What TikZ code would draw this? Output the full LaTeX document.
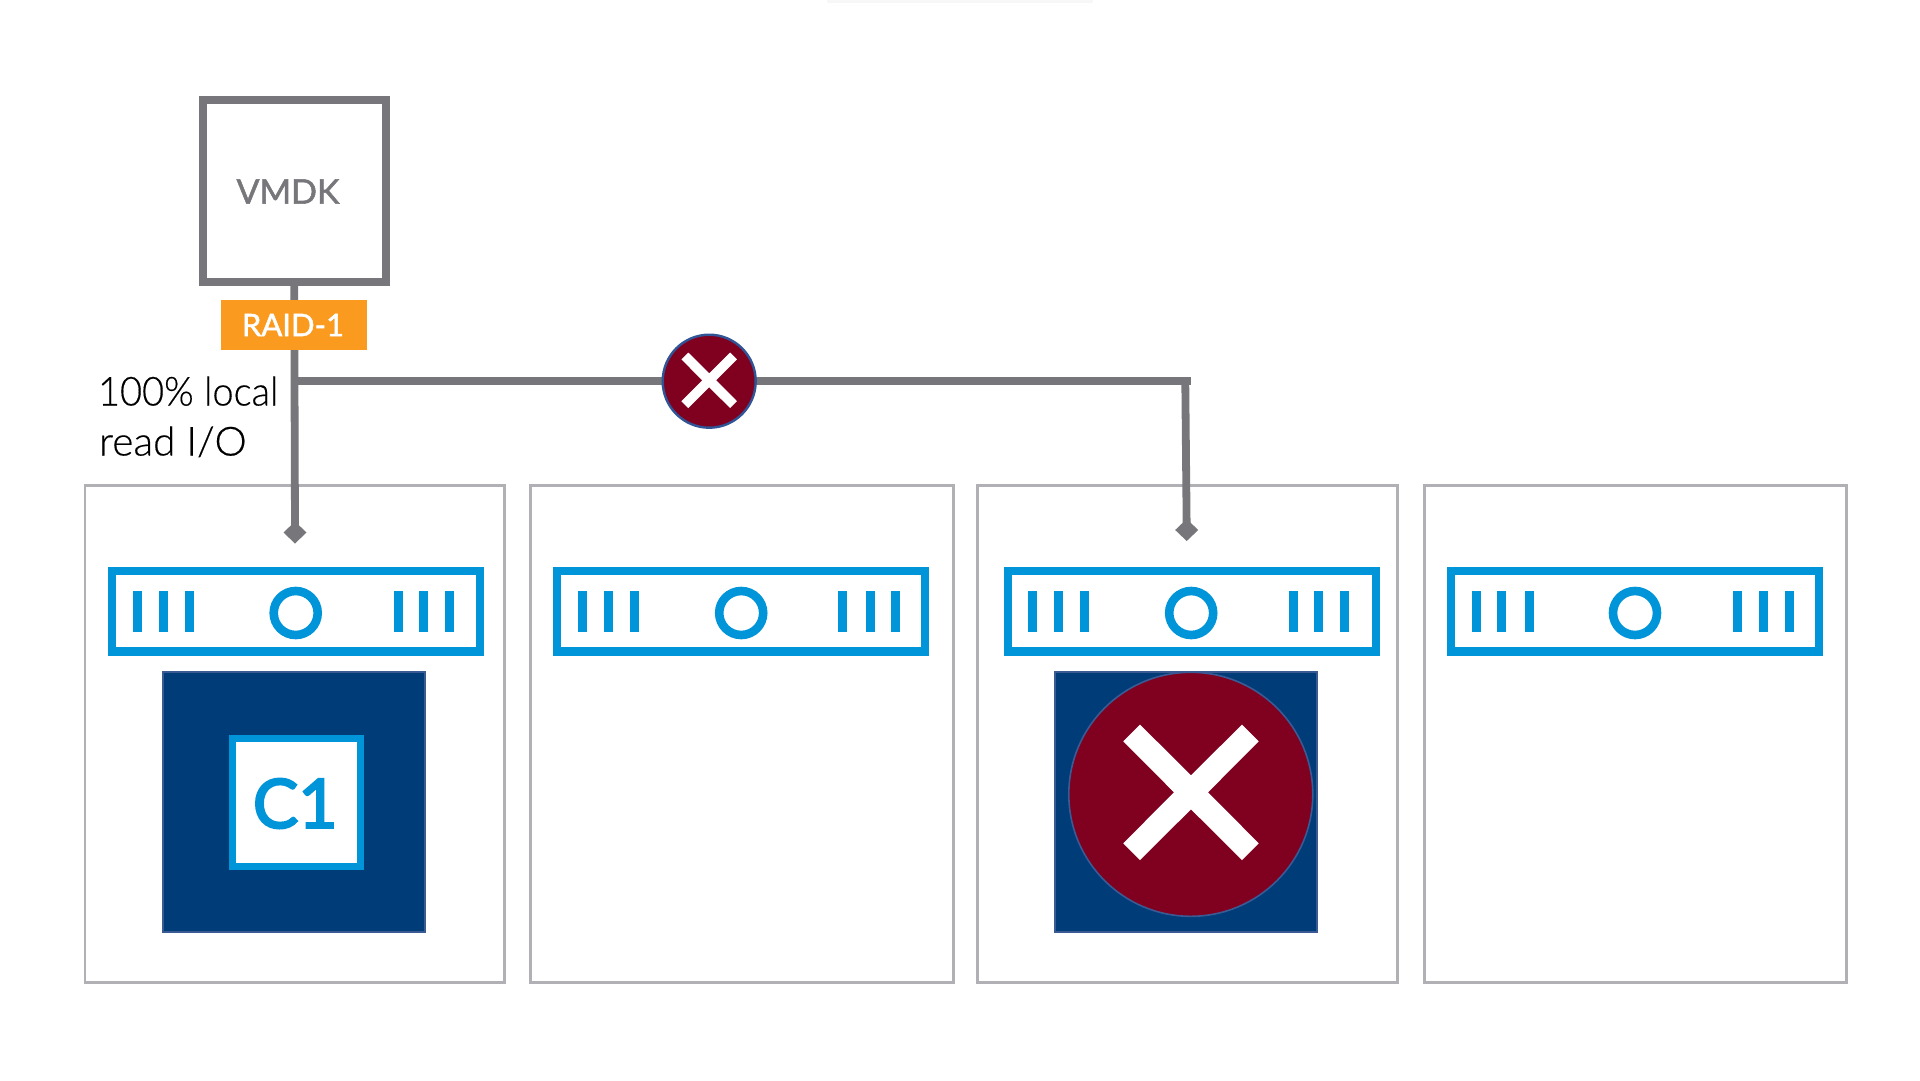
\documentclass[tikz,border=0pt]{standalone}
\usepackage{fontspec}
\usetikzlibrary{shapes.geometric}
\setmainfont{Lato}
\IfFontExistsTF{Lato Light}{\newfontfamily\lightf[FakeBold=0.4]{Lato Light}}{\newfontfamily\lightf{Lato}}
\newfontfamily\medf[FakeBold=1.6]{Lato}
\newfontfamily\semif[FakeBold=3.2]{Lato}
\definecolor{lineg}{HTML}{77777B}
\definecolor{hostg}{HTML}{B1B1B5}
\definecolor{srvb}{HTML}{0095D9}
\definecolor{navy}{HTML}{003C78}
\definecolor{navyb}{HTML}{3A5A94}
\definecolor{failr}{HTML}{800020}
\definecolor{ringb}{HTML}{2F5597}
\definecolor{orng}{HTML}{FA9A1E}
\tikzset{
  plainbox/.style={rectangle,inner sep=0pt,outer sep=0pt},
  vmbox/.style={plainbox,draw=lineg,line width=8pt,fill=white,minimum width=183pt,minimum height=182pt},
  raidbox/.style={plainbox,fill=orng,minimum width=146pt,minimum height=50pt},
  hostbox/.style={plainbox,draw=hostg,line width=2.8pt,fill=white,minimum height=497pt},
  srvbox/.style={plainbox,draw=srvb,line width=8.3pt,fill=white,minimum width=368pt,minimum height=80.5pt},
  srvbar/.style={plainbox,fill=srvb,minimum width=9pt,minimum height=41.3pt},
  srvring/.style={circle,inner sep=0pt,outer sep=0pt,draw=srvb,line width=8.6pt,minimum size=44pt},
  navybox/.style={plainbox,draw=navyb,line width=1.6pt,fill=navy,minimum width=262pt,minimum height=260pt},
  compbox/.style={plainbox,draw=srvb,line width=7pt,fill=white,minimum width=127.5pt,minimum height=127.5pt},
  wire/.style={draw=lineg,line width=7.8pt},
  endmark/.style={diamond,fill=lineg,inner sep=0pt,outer sep=0pt,minimum width=23pt,minimum height=22pt},
  failsmall/.style={circle,fill=failr,draw=ringb,line width=2.4pt,inner sep=0pt,outer sep=0pt,minimum size=93pt},
  failbig/.style={circle,fill=failr,draw=navyb,line width=1.6pt,inner sep=0pt,outer sep=0pt,minimum size=244pt},
  label/.style={inner sep=0pt,outer sep=0pt,anchor=center},
}
\newcommand{\crossmark}[3]{% cx cy scale
  \fill[white,shift={(#1,#2)},scale=#3]
    (-51,-67.7)--(0,-17)--(51,-67.7)--(67.7,-51)--(17,0)--(67.7,51)--(51,67.7)--(0,17)--(-51,67.7)--(-67.7,51)--(-17,0)--(-67.7,-51)--cycle;}
\newcommand{\srvunit}[9]{% name, center x, bar lefts
  \node[srvbox] (#1) at (#2,611.3) {};
  \foreach \bx [count=\bi] in {#3,#4,#5,#6,#7,#8} \node[srvbar] (#1bar\bi) at (\bx+4.5,611.7) {};
  \node[srvring] (#1ring) at (#9,613) {};
}
\begin{document}
\begin{tikzpicture}[x=1pt,y=-1pt]
\useasboundingbox (0,0) rectangle (1920,1080);
\fill[black!3] (827,0) rectangle (1093,3);
% hosts
\node[hostbox,minimum width=419.8pt] (h1) at (294.9,733.7) {};
\node[hostbox,minimum width=422.7pt] (h2) at (742,733.7) {};
\node[hostbox,minimum width=420.5pt] (h3) at (1187.6,733.7) {};
\node[hostbox,minimum width=421.5pt] (h4) at (1635.5,733.7) {};
% servers
\srvunit{s1}{295.7}{133.3}{159}{184.7}{393.7}{419.3}{445}{295.7}
\srvunit{s2}{741.2}{578}{603.7}{629.7}{838.3}{865.7}{891.3}{741.2}
\srvunit{s3}{1191.7}{1028.3}{1054.3}{1080}{1288.7}{1314.3}{1340}{1191.2}
\srvunit{s4}{1634.8}{1471.7}{1497.3}{1524.7}{1733.3}{1759}{1785}{1635}
% components
\node[navybox] (n1) at (293.7,801.8) {};
\node[compbox] (c1) at (296.5,802.5) {};
\node[label,text=srvb] (c1t) at (295.3,803.5) {\fontsize{68}{68}\selectfont\semif C1};
\node[navybox] (n3) at (1186,802) {};
\node[failbig] (f3) at (1190.8,794.3) {};
\crossmark{1191}{792.3}{1}
% VMDK
\node[vmbox] (vmdk) at (294.2,190.7) {};
\node[label,text=lineg] (vmdkt) at (288,191.5) {\fontsize{34}{34}\selectfont\medf VMDK};
% wires
\node[endmark] (e1) at (295,532.5) {};
\node[endmark] (e3) at (1186.7,530) {};
\coordinate (j1) at (294.5,380.7);
\coordinate (j3) at (1185.3,380.7);
\draw[wire] (vmdk.south) -- (e1.center);
\draw[wire] (j1) -- ([xshift=5.7pt]j3);
\draw[wire] ([yshift=-3pt]j3) -- (e3.center);
% RAID
\node[raidbox] (raid) at (294,325) {};
\node[label,text=white] (raidt) at (293,325) {\fontsize{31}{31}\selectfont\medf RAID-1};
% small fail
\node[failsmall] (f2) at (709.2,381.2) {};
\crossmark{709.2}{380.3}{0.41}
% note
\node[inner sep=0pt,outer sep=0pt,anchor=base west,text=black,xscale=0.95,transform shape] (note1) at (98,405.5) {\fontsize{40}{40}\selectfont\lightf 100\% local};
\node[inner sep=0pt,outer sep=0pt,anchor=base west,text=black,xscale=1.015,transform shape] (note2) at (99,455.5) {\fontsize{40}{40}\selectfont\lightf read I/O};
\end{tikzpicture}
\end{document}
